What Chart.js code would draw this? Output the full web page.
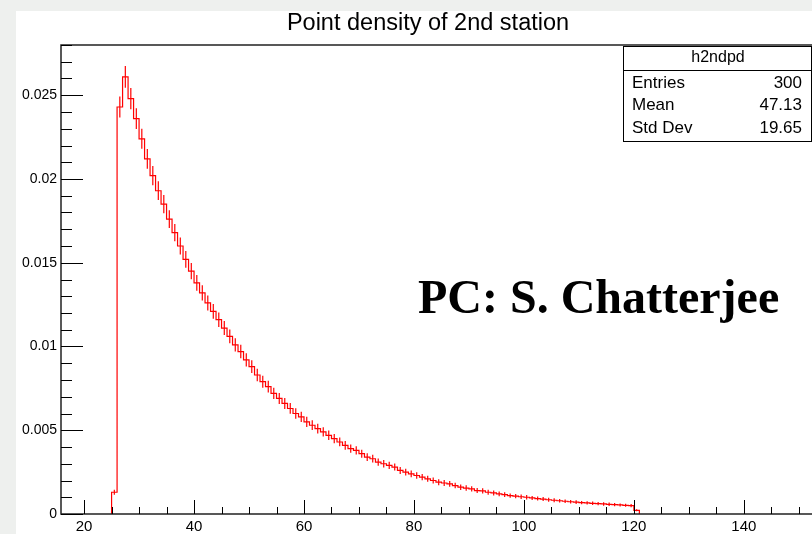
<!DOCTYPE html>
<html>
<head>
<meta charset="utf-8">
<script src="https://cdn.jsdelivr.net/npm/chart.js@4"></script>
<style>
  html, body { margin: 0; padding: 0; background: #eef0ee; }
  #c { display: block; }
</style>
</head>
<body>
<canvas id="c" width="812" height="534"></canvas>
<script>
// ---- data ----
const titleText = "Point density of 2nd station";
const histName = "h2ndpd";
const statLabels = ["Entries", "Mean", "Std Dev"];
const statValues = ["300", "47.13", "19.65"];
const binStart = 25;
const binWidth = 1;
const density = [
  0.0013, 0.0243, 0.0261, 0.0248, 0.0236, 0.0224, 0.0212, 0.0202, 0.0193, 0.0185,
  0.0176, 0.0168, 0.0160, 0.0152, 0.0145, 0.0138, 0.0132, 0.0126, 0.0121, 0.0116,
  0.0111, 0.0106, 0.0101, 0.0097, 0.0092, 0.0088, 0.0083, 0.0079, 0.0076, 0.0072,
  0.0069, 0.0066, 0.0063, 0.0060, 0.0058, 0.0055, 0.0053, 0.0051, 0.0049, 0.0047,
  0.0045, 0.0043, 0.0041, 0.0039, 0.0038, 0.0036, 0.0034, 0.0033, 0.0031, 0.0030,
  0.0029, 0.0028, 0.0026, 0.0025, 0.0024, 0.0023, 0.0022, 0.0021, 0.0020, 0.0019,
  0.00185, 0.0018, 0.0017, 0.0016, 0.00155, 0.0015, 0.0014, 0.00138, 0.0013, 0.00126,
  0.0012, 0.00116, 0.0011, 0.00107, 0.00103, 0.0010, 0.00096, 0.00092, 0.00089, 0.00085,
  0.00082, 0.00079, 0.00076, 0.00073, 0.00071, 0.00068, 0.00066, 0.00064, 0.00062, 0.00060,
  0.00058, 0.00056, 0.00054, 0.00052, 0.00050, 0.00022
];
const errors = [
  0.00015, 0.00063, 0.00065, 0.00063, 0.00062, 0.00060, 0.00059, 0.00057, 0.00056, 0.00055,
  0.00053, 0.00052, 0.00051, 0.00050, 0.00049, 0.00047, 0.00046, 0.00045, 0.00044, 0.00043,
  0.00042, 0.00041, 0.00040, 0.00040, 0.00039, 0.00038, 0.00037, 0.00036, 0.00035, 0.00034,
  0.00033, 0.00033, 0.00032, 0.00031, 0.00031, 0.00030, 0.00029, 0.00029, 0.00028, 0.00028,
  0.00027, 0.00026, 0.00026, 0.00025, 0.00025, 0.00024, 0.00023, 0.00023, 0.00022, 0.00022,
  0.00022, 0.00021, 0.00021, 0.00020, 0.00020, 0.00019, 0.00019, 0.00018, 0.00018, 0.00018,
  0.00018, 0.00017, 0.00017, 0.00016, 0.00016, 0.00016, 0.00015, 0.00015, 0.00015, 0.00015,
  0.00014, 0.00014, 0.00013, 0.00013, 0.00013, 0.00013, 0.00012, 0.00012, 0.00012, 0.00012,
  0.00012, 0.00011, 0.00011, 0.00011, 0.00011, 0.00010, 0.00010, 0.00010, 0.00010, 0.00010,
  0.00010, 0.00009, 0.00009, 0.00009, 0.00009, 0.00006
];
const xTickLabels = [20, 40, 60, 80, 100, 120, 140];
const yTickLabels = [0, 0.005, 0.01, 0.015, 0.02, 0.025];
const yTickText = ["0", "0.005", "0.01", "0.015", "0.02", "0.025"];
const xMin = 15.8, xMax = 152.4;
const yMin = 0, yMax = 0.028;

// ---- build datasets from the arrays ----
const histPts = [{x: binStart, y: 0}];
density.forEach((v, i) => histPts.push({x: binStart + i * binWidth, y: v}));
histPts.push({x: binStart + density.length * binWidth, y: 0});

const errPts = [];
density.forEach((v, i) => {
  const c = binStart + (i + 0.5) * binWidth;
  errPts.push({x: c, y: v - errors[i]}, {x: c, y: v + errors[i]}, {x: c, y: null});
});

const sans = "'Liberation Sans', Arial, sans-serif";

const decorPlugin = {
  id: 'decor',
  beforeDraw(chart) {
    const ctx = chart.ctx;
    ctx.save();
    ctx.fillStyle = '#eef0ee';
    ctx.fillRect(0, 0, chart.width, chart.height);
    ctx.fillStyle = '#ffffff';
    ctx.fillRect(16, 11, chart.width - 16, chart.height - 11);
    ctx.restore();
  },
  afterDraw(chart) {
    const ctx = chart.ctx;
    const a = chart.chartArea;
    const xs = chart.scales.x, ys = chart.scales.y;
    ctx.save();
    // frame
    ctx.strokeStyle = '#222';
    ctx.lineWidth = 1.5;
    ctx.beginPath();
    ctx.moveTo(a.right, a.top);
    ctx.lineTo(a.left, a.top);
    ctx.lineTo(a.left, a.bottom);
    ctx.lineTo(a.right, a.bottom);
    ctx.stroke();
    // inward ticks
    ctx.lineWidth = 1;
    ctx.strokeStyle = '#000';
    ctx.beginPath();
    for (let v = 20; v < xMax; v += 5) {
      const px = Math.round(xs.getPixelForValue(v)) + 0.5;
      const len = (v % 20 === 0) ? 14 : 7;
      ctx.moveTo(px, a.bottom);
      ctx.lineTo(px, a.bottom - len);
    }
    for (let k = 0; k <= 28; k++) {
      const v = k * 0.001;
      const py = Math.round(ys.getPixelForValue(v)) + 0.5;
      const len = (k % 5 === 0) ? 22 : 11;
      ctx.moveTo(a.left, py);
      ctx.lineTo(a.left + len, py);
    }
    ctx.stroke();
    // stats box
    const bx = 623.5, by = 46.5, bw = 188, bh = 95;
    ctx.fillStyle = '#fff';
    ctx.fillRect(bx, by, bw, bh);
    ctx.strokeStyle = '#000';
    ctx.lineWidth = 1;
    ctx.strokeRect(bx, by, bw, bh);
    ctx.beginPath();
    ctx.moveTo(bx, 70.5);
    ctx.lineTo(bx + bw, 70.5);
    ctx.stroke();
    ctx.fillStyle = '#000';
    ctx.font = '16px ' + sans;
    ctx.textAlign = 'center';
    ctx.textBaseline = 'middle';
    ctx.fillText(histName, 718, 58);
    ctx.font = '17px ' + sans;
    const rowsY = [83, 105, 128];
    statLabels.forEach((s, i) => {
      ctx.textAlign = 'left';
      ctx.fillText(s, 632, rowsY[i]);
      ctx.textAlign = 'right';
      ctx.fillText(statValues[i], 802, rowsY[i]);
    });
    // watermark
    ctx.font = "bold 48px 'Liberation Serif', 'Times New Roman', serif";
    ctx.textAlign = 'left';
    ctx.textBaseline = 'alphabetic';
    ctx.fillText('PC: S. Chatterjee', 418, 313);
    ctx.restore();
  }
};

new Chart(document.getElementById('c'), {
  type: 'line',
  data: {
    datasets: [
      {
        data: histPts,
        borderColor: '#ff0000',
        borderWidth: 1.2,
        pointRadius: 0,
        stepped: true,
        fill: false,
        tension: 0
      },
      {
        data: errPts,
        borderColor: '#ff0000',
        borderWidth: 1.2,
        pointRadius: 0,
        spanGaps: false,
        fill: false,
        tension: 0
      }
    ]
  },
  options: {
    responsive: false,
    animation: false,
    devicePixelRatio: 1,
    layout: { padding: { left: 0, right: -44, top: 0, bottom: 0 } },
    plugins: {
      legend: { display: false },
      tooltip: { enabled: false },
      title: {
        display: true,
        text: titleText,
        color: '#000',
        font: { family: sans, size: 23.5, weight: 'normal', lineHeight: 1.2 },
        padding: { top: 9, bottom: 7.8 }
      }
    },
    scales: {
      x: {
        type: 'linear',
        min: xMin,
        max: xMax,
        grid: { display: false, drawTicks: false },
        border: { display: false },
        afterBuildTicks(scale) { scale.ticks = xTickLabels.map(v => ({value: v})); },
        afterFit(scale) { scale.height = 20; scale.paddingLeft = 0; scale.paddingRight = 0; },
        ticks: {
          color: '#000',
          padding: 4,
          maxRotation: 0,
          autoSkip: false,
          font: { family: sans, size: 15 },
          callback: (v) => String(v)
        }
      },
      y: {
        type: 'linear',
        min: yMin,
        max: yMax,
        grid: { display: false, drawTicks: false },
        border: { display: false },
        afterBuildTicks(scale) { scale.ticks = yTickLabels.map(v => ({value: v})); },
        afterFit(scale) { scale.width = 61; },
        ticks: {
          color: '#000',
          padding: 4,
          autoSkip: false,
          font: { family: sans, size: 14 },
          callback: (v) => yTickText[yTickLabels.indexOf(v)] ?? ''
        }
      }
    }
  },
  plugins: [decorPlugin]
});
</script>
</body>
</html>
